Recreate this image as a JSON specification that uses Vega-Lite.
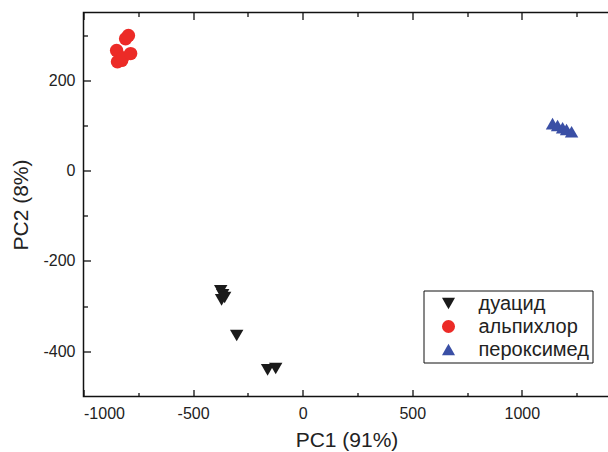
{
  "$schema": "https://vega.github.io/schema/vega-lite/v6.json",
  "autosize": {"type": "none"},
  "padding": {"left": 83.5, "top": 12.5, "right": 0, "bottom": 55.5},
  "width": 526,
  "height": 384,
  "background": "white",
  "config": {
    "view": {"stroke": "#111111", "strokeWidth": 1.5},
    "font": "Liberation Sans",
    "axis": {
      "grid": false,
      "domain": false,
      "tickColor": "#111111",
      "tickWidth": 1.3,
      "labelColor": "#222222",
      "labelFont": "Liberation Sans",
      "labelFontSize": 16,
      "titleFont": "Liberation Sans",
      "titleFontSize": 21,
      "titleFontWeight": "normal",
      "titleColor": "#222222"
    }
  },
  "data": {
    "values": [
      {"pc1": -849, "pc2": 266, "group": "альпихлор"},
      {"pc1": -845, "pc2": 241, "group": "альпихлор"},
      {"pc1": -826, "pc2": 244, "group": "альпихлор"},
      {"pc1": -822, "pc2": 250, "group": "альпихлор"},
      {"pc1": -808, "pc2": 292, "group": "альпихлор"},
      {"pc1": -795, "pc2": 299, "group": "альпихлор"},
      {"pc1": -785, "pc2": 259, "group": "альпихлор"},
      {"pc1": 1140, "pc2": 104, "group": "пероксимед"},
      {"pc1": 1163, "pc2": 100, "group": "пероксимед"},
      {"pc1": 1186, "pc2": 95, "group": "пероксимед"},
      {"pc1": 1204, "pc2": 91, "group": "пероксимед"},
      {"pc1": 1227, "pc2": 86, "group": "пероксимед"},
      {"pc1": -374, "pc2": -266, "group": "дуацид"},
      {"pc1": -365, "pc2": -275, "group": "дуацид"},
      {"pc1": -370, "pc2": -286, "group": "дуацид"},
      {"pc1": -356, "pc2": -281, "group": "дуацид"},
      {"pc1": -301, "pc2": -365, "group": "дуацид"},
      {"pc1": -160, "pc2": -441, "group": "дуацид"},
      {"pc1": -123, "pc2": -438, "group": "дуацид"}
    ]
  },
  "resolve": {"axis": {"x": "independent", "y": "independent"}},
  "layer": [
    {
      "mark": {"type": "point", "filled": true, "opacity": 1, "size": 180},
      "encoding": {
        "x": {
          "field": "pc1", "type": "quantitative",
          "scale": {"domain": [-1000, 1400], "nice": false, "zero": false},
          "axis": {"orient": "bottom", "values": [-1000, -500, 0, 500, 1000], "labelExpr": "'' + datum.value", "tickSize": -7, "labelPadding": 15.5, "title": "PC1 (91%)", "titlePadding": 8}
        },
        "y": {
          "field": "pc2", "type": "quantitative",
          "scale": {"domain": [-500, 350], "nice": false, "zero": false},
          "axis": {"orient": "left", "values": [-400, -200, 0, 200], "labelExpr": "'' + datum.value", "tickSize": -7, "labelPadding": 15.5, "title": "PC2 (8%)", "titlePadding": 11}
        },
        "color": {
          "field": "group", "type": "nominal",
          "scale": {"domain": ["дуацид", "альпихлор", "пероксимед"], "range": ["#1a1a1a", "#ec2b27", "#3a4fa5"]},
          "legend": {
            "title": null,
            "orient": "none",
            "legendX": 340,
            "legendY": 278,
            "strokeColor": "#111111",
            "fillColor": "white",
            "padding": 3,
            "symbolSize": 170,
            "symbolOffset": 12,
            "labelFontSize": 20,
            "labelColor": "#222222",
            "labelOffset": 20,
            "rowPadding": 3,
            "symbolStrokeWidth": 0
          }
        },
        "shape": {
          "field": "group", "type": "nominal",
          "scale": {"domain": ["дуацид", "альпихлор", "пероксимед"], "range": ["triangle-down", "circle", "triangle-up"]}
        }
      }
    },
    {
      "mark": {"type": "point", "opacity": 0},
      "encoding": {
        "x": {"field": "pc1", "type": "quantitative", "axis": {"orient": "bottom", "values": [-750, -250, 250, 750, 1250], "tickSize": -4, "labels": false, "title": null}},
        "y": {"field": "pc2", "type": "quantitative", "axis": {"orient": "left", "values": [-300, -100, 100, 300], "tickSize": -4, "labels": false, "title": null}}
      }
    },
    {
      "mark": {"type": "point", "opacity": 0},
      "encoding": {
        "x": {"field": "pc1", "type": "quantitative", "axis": {"orient": "top", "values": [-1000, -500, 0, 500, 1000], "tickSize": -7, "labels": false, "title": null}},
        "y": {"field": "pc2", "type": "quantitative", "axis": null}
      }
    },
    {
      "mark": {"type": "point", "opacity": 0},
      "encoding": {
        "x": {"field": "pc1", "type": "quantitative", "axis": {"orient": "top", "values": [-750, -250, 250, 750, 1250], "tickSize": -4, "labels": false, "title": null}},
        "y": {"field": "pc2", "type": "quantitative", "axis": null}
      }
    }
  ]
}
